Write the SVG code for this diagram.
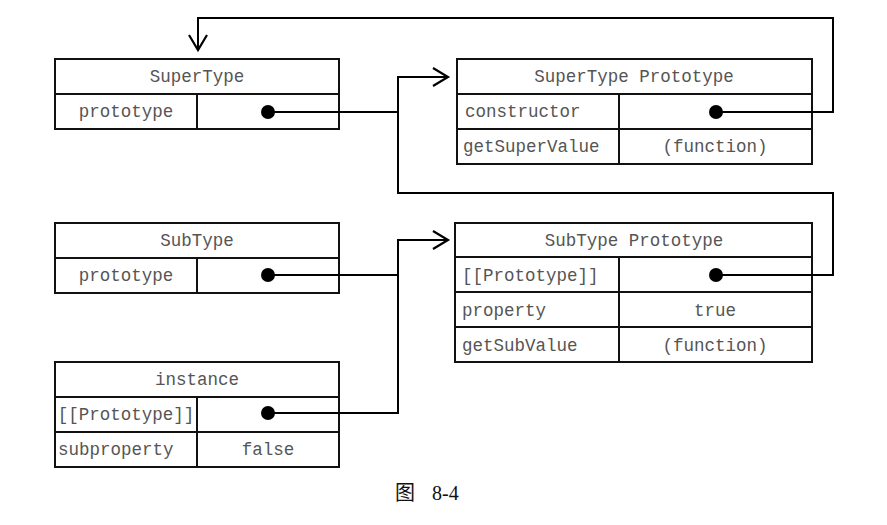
<svg xmlns="http://www.w3.org/2000/svg" width="887" height="525" viewBox="0 0 887 525">
  <style>
    .box { fill: #fff; stroke: #111; stroke-width: 2; }
    .grid { stroke: #111; stroke-width: 2; fill: none; }
    .t { font-family: "Liberation Mono", "Courier New", monospace; font-size: 17.5px; fill: #555; }
    .c { text-anchor: middle; }
    .wire { fill: none; stroke: #000; stroke-width: 2; }
    .dot { fill: #000; }
    .cap { font-family: "Liberation Serif", "Noto Sans CJK SC", serif; font-size: 20px; fill: #111; }
  </style>
  <defs>
    <marker id="open-arrow" markerUnits="userSpaceOnUse" markerWidth="20" markerHeight="22" refX="16" refY="10" orient="auto" viewBox="0 0 20 20">
      <path d="M1,1 L16,10 L1,19" fill="none" stroke="#000" stroke-width="2.2"/>
    </marker>
  </defs>

  <!-- SuperType constructor -->
  <g id="supertype">
    <rect class="box" x="55" y="59" width="284" height="70"/>
    <path class="grid" d="M55,94 H339 M197,94 V129"/>
    <text class="t c" x="197" y="82">SuperType</text>
    <text class="t c" x="126" y="117">prototype</text>
  </g>

  <!-- SuperType prototype object -->
  <g id="supertype-prototype">
    <rect class="box" x="457" y="59" width="355" height="105"/>
    <path class="grid" d="M457,94 H812 M457,129 H812 M619,94 V164"/>
    <text class="t c" x="634" y="82">SuperType Prototype</text>
    <text class="t" x="465" y="117">constructor</text>
    <text class="t" x="463" y="152">getSuperValue</text>
    <text class="t c" x="715" y="152">(function)</text>
  </g>

  <!-- SubType constructor -->
  <g id="subtype">
    <rect class="box" x="55" y="223" width="284" height="70"/>
    <path class="grid" d="M55,258 H339 M197,258 V293"/>
    <text class="t c" x="197" y="246">SubType</text>
    <text class="t c" x="126" y="281">prototype</text>
  </g>

  <!-- SubType prototype object -->
  <g id="subtype-prototype">
    <rect class="box" x="455" y="223" width="357" height="139"/>
    <path class="grid" d="M455,257 H812 M455,292 H812 M455,327 H812 M619,257 V362"/>
    <text class="t c" x="634" y="246">SubType Prototype</text>
    <text class="t" x="462" y="281">[[Prototype]]</text>
    <text class="t" x="462" y="316">property</text>
    <text class="t c" x="715" y="316">true</text>
    <text class="t" x="462" y="351">getSubValue</text>
    <text class="t c" x="715" y="351">(function)</text>
  </g>

  <!-- instance -->
  <g id="instance">
    <rect class="box" x="55" y="362" width="284" height="105"/>
    <path class="grid" d="M55,397 H339 M55,432 H339 M197,397 V467"/>
    <text class="t c" x="197" y="385">instance</text>
    <text class="t c" x="126" y="420">[[Prototype]]</text>
    <text class="t" x="58" y="455">subproperty</text>
    <text class="t c" x="268" y="455">false</text>
  </g>

  <!-- pointer connectors -->
  <g id="connectors">
    <path class="wire" d="M268,112 H398 V77 H448" marker-end="url(#open-arrow)"/>
    <path class="wire" d="M716,112 H833 V18 H198 V50" marker-end="url(#open-arrow)"/>
    <path class="wire" d="M716,275 H833 V193 H398 V77"/>
    <path class="wire" d="M268,275 H398 V240 H448" marker-end="url(#open-arrow)"/>
    <path class="wire" d="M268,413 H398 V240"/>
    <circle class="dot" cx="268" cy="112" r="7"/>
    <circle class="dot" cx="716" cy="112" r="7"/>
    <circle class="dot" cx="268" cy="275" r="7"/>
    <circle class="dot" cx="716" cy="275" r="7"/>
    <circle class="dot" cx="268" cy="413" r="7"/>
  </g>

  <text class="cap" x="395" y="500">图</text>
  <text class="cap" x="432" y="500">8-4</text>
</svg>
